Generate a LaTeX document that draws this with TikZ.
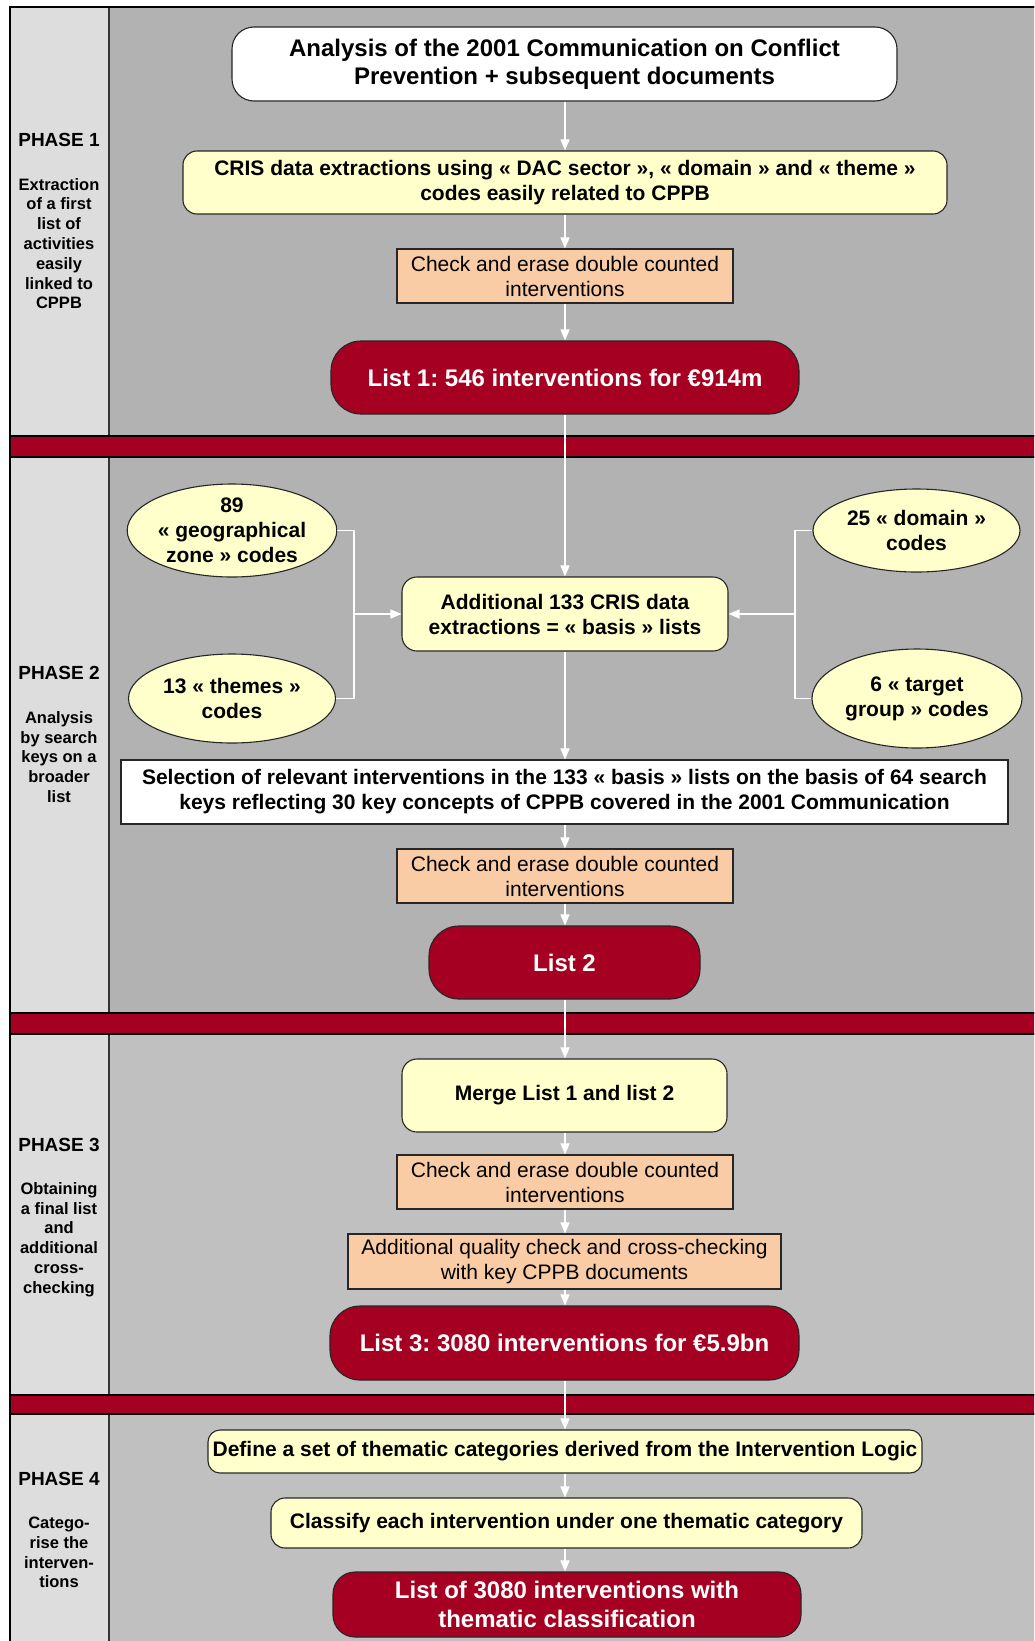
\documentclass[tikz,border=0pt]{standalone}
\usepackage{fontspec}
\setmainfont{Liberation Sans}
\frenchspacing
\usetikzlibrary{shapes.geometric,arrows.meta}
\definecolor{pgray}{RGB}{178,178,178}
\definecolor{pgrayb}{RGB}{192,192,192}
\definecolor{lgray}{RGB}{221,221,221}
\definecolor{dred}{RGB}{165,0,33}
\definecolor{yel}{RGB}{255,255,204}
\definecolor{peach}{RGB}{250,204,166}
\begin{document}
\begin{tikzpicture}[x=1pt,y=-1pt,
  base/.style={draw=black!85, line width=1.1pt, inner sep=0pt, align=center,
    font=\fontsize{21}{25}\selectfont\bfseries},
  whitebox/.style={base, fill=white},
  yelbox/.style={base, fill=yel},
  peachbox/.style={base, fill=peach, font=\fontsize{21}{25}\selectfont},
  redbox/.style={base, fill=dred, text=white, font=\fontsize{24}{29}\selectfont\bfseries},
  ell/.style={base, ellipse, fill=yel},
  arr/.style={draw=white, line width=1.4pt, -{Triangle[length=11pt,width=9pt]}},
  wline/.style={draw=white, line width=1.4pt},
  phlabel/.style={align=center, inner sep=0pt, font=\fontsize{19}{22}\selectfont\bfseries},
  phdesc/.style={align=center, inner sep=0pt, font=\fontsize{16.5}{19.8}\selectfont\bfseries},
  leftcol/.style={fill=lgray, draw=black!80, line width=1.6pt},
  panel/.style={draw=black!80, line width=1.6pt},
  band/.style={fill=dred, draw=black, line width=2.4pt}
]
\useasboundingbox (0,0) rectangle (1034,1641);
\clip (0,0) rectangle (1034,1641);
\fill[white] (0,0) rectangle (1034,1641);

% phases
\filldraw[leftcol] (10,7) rectangle (109,436);
\filldraw[panel, fill=pgray] (109,7) rectangle (1045,436);
\filldraw[leftcol] (10,457) rectangle (109,1013);
\filldraw[panel, fill=pgray] (109,457) rectangle (1045,1013);
\filldraw[leftcol] (10,1034) rectangle (109,1395);
\filldraw[panel, fill=pgrayb] (109,1034) rectangle (1045,1395);
\filldraw[leftcol] (10,1414) rectangle (109,1660);
\filldraw[panel, fill=pgrayb] (109,1414) rectangle (1045,1660);
% bands
\filldraw[band] (10,436) rectangle (1045,457);
\filldraw[band] (10,1013) rectangle (1045,1034);
\filldraw[band] (10,1395) rectangle (1045,1414);
% outer border
\draw[line width=2.6pt, black] (1045,7) -- (10,7) -- (10,1660);

% phase labels
\node[phlabel] (p1) at (59,139.5) {PHASE 1};
\node[phdesc] (d1) at (59,243.5) {Extraction\\of a first\\list of\\activities\\easily\\linked to\\CPPB};
\node[phlabel] (p2) at (59,673) {PHASE 2};
\node[phdesc] (d2) at (59,757) {Analysis\\by search\\keys on a\\broader\\list};
\node[phlabel] (p3) at (59,1145) {PHASE 3};
\node[phdesc] (d3) at (59,1239.5) {Obtaining\\a final list\\and\\additional\\cross-\\checking};
\node[phlabel] (p4) at (59,1479) {PHASE 4};
\node[phdesc] (d4) at (59,1552.5) {Catego-\\rise the\\interven-\\tions};

% phase 1
\node[whitebox, rounded corners=22pt, minimum width=665pt, minimum height=74pt,
  font=\fontsize{24}{28}\selectfont\bfseries] (title) at (564.5,64)
  {Analysis of the 2001 Communication on Conflict\\Prevention + subsequent documents};
\node[yelbox, rounded corners=14pt, minimum width=764pt, minimum height=63pt] (cris) at (565,182.5)
  {CRIS data extractions using « DAC sector », « domain » and « theme »\\codes easily related to CPPB};
\node[peachbox, minimum width=336pt, minimum height=54pt] (chk1) at (565,276)
  {Check and erase double counted\\interventions};
\node[redbox, rounded corners=30pt, minimum width=468pt, minimum height=73pt] (list1) at (565,377.5)
  {List 1: 546 interventions for €914m};

% phase 2
\node[ell, minimum width=207pt, minimum height=93pt] (geo) at (232,530.5)
  {89\\« geographical\\zone » codes};
\node[ell, minimum width=207pt, minimum height=89pt] (themes) at (232,698.5)
  {13 « themes »\\codes};
\node[ell, minimum width=207pt, minimum height=83pt] (domain) at (916.5,530.5)
  {25 « domain »\\codes};
\node[ell, minimum width=210pt, minimum height=99pt] (target) at (917,698.5)
  {6 « target\\group » codes};
\node[yelbox, rounded corners=15pt, minimum width=326pt, minimum height=74pt] (add) at (565,614)
  {Additional 133 CRIS data\\extractions = « basis » lists};
\node[whitebox, minimum width=887pt, minimum height=64pt] (sel) at (564.5,792)
  {Selection of relevant interventions in the 133 « basis » lists on the basis of 64 search\\keys reflecting 30 key concepts of CPPB covered in the 2001 Communication};
\node[peachbox, minimum width=336pt, minimum height=54pt] (chk2) at (565,876)
  {Check and erase double counted\\interventions};
\node[redbox, rounded corners=30pt, minimum width=271pt, minimum height=73pt] (list2) at (564.5,962.5)
  {List 2};

% phase 3
\node[yelbox, rounded corners=15pt, minimum width=325pt, minimum height=73pt] (merge) at (564.5,1095.5)
  {Merge List 1 and list 2};
\node[peachbox, minimum width=336pt, minimum height=54pt] (chk3) at (565,1182)
  {Check and erase double counted\\interventions};
\node[peachbox, minimum width=433pt, minimum height=55pt] (addq) at (564.5,1261.5)
  {Additional quality check and cross-checking\\with key CPPB documents};
\node[redbox, rounded corners=30pt, minimum width=469pt, minimum height=74pt] (list3) at (564.5,1343)
  {List 3: 3080 interventions for €5.9bn};

% phase 4
\node[yelbox, rounded corners=12pt, minimum width=714pt, minimum height=43pt] (define) at (565,1451.5)
  {Define a set of thematic categories derived from the Intervention Logic};
\node[yelbox, rounded corners=14pt, minimum width=591pt, minimum height=50pt] (classify) at (566.5,1523)
  {Classify each intervention under one thematic category};
\node[redbox, rounded corners=22pt, minimum width=468pt, minimum height=65pt] (final) at (567,1604.5)
  {List of 3080 interventions with\\thematic classification};

% connectors
\coordinate (jl) at (354,614);
\coordinate (jr) at (795,614);
\draw[arr] (title.south -| 565,0) -- (cris.north -| 565,0);
\draw[arr] (cris.south -| 565,0) -- (chk1.north -| 565,0);
\draw[arr] (chk1.south -| 565,0) -- (list1.north -| 565,0);
\draw[arr] (list1.south -| 565,0) -- (add.north -| 565,0);
\draw[arr] (add.south -| 565,0) -- (sel.north -| 565,0);
\draw[arr] (sel.south -| 565,0) -- (chk2.north -| 565,0);
\draw[arr] (chk2.south -| 565,0) -- (list2.north -| 565,0);
\draw[arr] (list2.south -| 565,0) -- (merge.north -| 565,0);
\draw[arr] (merge.south -| 565,0) -- (chk3.north -| 565,0);
\draw[arr] (chk3.south -| 565,0) -- (addq.north -| 565,0);
\draw[arr] (addq.south -| 565,0) -- (list3.north -| 565,0);
\draw[arr] (list3.south -| 565,0) -- (define.north -| 565,0);
\draw[arr] (define.south -| 565,0) -- (classify.north -| 565,0);
\draw[arr] (classify.south -| 565,0) -- (final.north -| 565,0);
\draw[wline] (geo.east) -| (jl);
\draw[wline] (themes.east) -| (jl);
\draw[arr] (jl) -- (add.west);
\draw[wline] (domain.west) -| (jr);
\draw[wline] (target.west) -| (jr);
\draw[arr] (jr) -- (add.east);
\end{tikzpicture}
\end{document}
